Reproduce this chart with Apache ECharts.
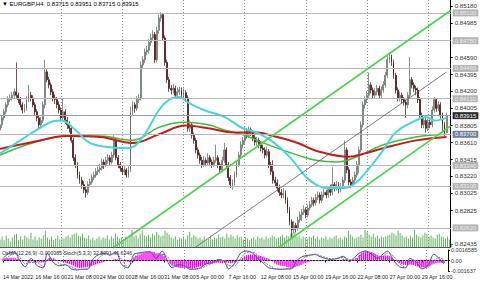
<!DOCTYPE html>
<html><head><meta charset="utf-8">
<script src="https://cdn.jsdelivr.net/npm/echarts@6/dist/echarts.min.js"></script>
<style>html,body{margin:0;padding:0;background:#fff;overflow:hidden}#c{width:480px;height:284px}</style>
</head><body><div id="c"></div>
<script>
// prices in units of 0.0001
const tickLabels = ['14 Mar 2022','16 Mar 16:00','21 Mar 08:00','24 Mar 00:00','28 Mar 16:00','31 Mar 08:00','5 Apr 00:00','7 Apr 16:00','12 Apr 08:00','15 Apr 00:00','19 Apr 16:00','22 Apr 08:00','27 Apr 00:00','29 Apr 16:00'];
const opens = [8375,8381,8389,8396,8404,8410,8412,8415,8419,
8415,8410,8404,8398,8400,8410,8415,8412,8404,8396,8389,8381,8386,8404,
8442,8433,8427,8419,8412,8410,8404,8398,8389,8396,8386,8381,8377,8363,
8343,8335,8323,8317,8312,8306,8303,8312,8315,8320,8323,8327,8329,8331,
8338,8335,8340,8343,8338,8346,8363,8343,8335,8331,8327,8329,8323,8329,
8396,8404,8400,8410,8412,8450,8456,8465,8467,8476,8481,8485,8456,8490,
8504,8508,8481,8453,8433,8423,8421,8423,8415,8419,8421,8415,8418,8412,
8377,8381,8369,8363,8352,8346,8340,8335,8340,8337,8343,8338,8335,8340,
8343,8335,8329,8340,8352,8335,8320,8312,8314,8323,8335,8346,8358,8363,
8373,8369,8375,8372,8366,8361,8363,8358,8354,8352,8346,8350,8335,8327,
8317,8314,8308,8303,8300,8302,8294,8283,8269,8260,8265,8262,8271,8277,
8280,8283,8277,8285,8289,8294,8291,8297,8300,8294,8300,8303,8300,8306,
8303,8312,8308,8312,8306,8310,8317,8352,8329,8315,8312,8317,8323,8335,
8352,8381,8404,8410,8415,8427,8421,8415,8419,8423,8415,8421,8427,8438,
8456,8459,8453,8438,8421,8412,8415,8410,8407,8404,8415,8433,8427,8423,
8421,8410,8392,8381,8386,8377,8384,8381,8398,8410,8400,8404,8392,8381,8372];
const closes = [8381,8389,8396,8404,8410,8412,8415,8419,8415,
8410,8404,8398,8400,8410,8415,8412,8404,8396,8389,8381,8386,8404,8442,
8433,8427,8419,8412,8410,8404,8398,8389,8396,8386,8381,8377,8363,8343,
8335,8323,8317,8312,8306,8303,8312,8315,8320,8323,8327,8329,8331,8338,
8335,8340,8343,8338,8346,8363,8343,8335,8331,8327,8329,8323,8329,8396,
8404,8400,8410,8412,8450,8456,8465,8467,8476,8481,8485,8456,8490,8504,
8508,8481,8453,8433,8423,8421,8423,8415,8419,8421,8415,8418,8412,8377,
8381,8369,8363,8352,8346,8340,8335,8340,8337,8343,8338,8335,8340,8343,
8335,8329,8340,8352,8335,8320,8312,8314,8323,8335,8346,8358,8363,8373,
8369,8375,8372,8366,8361,8363,8358,8354,8352,8346,8350,8335,8327,8317,
8314,8308,8303,8300,8302,8294,8283,8269,8260,8265,8262,8271,8277,8280,
8283,8277,8285,8289,8294,8291,8297,8300,8294,8300,8303,8300,8306,8303,
8312,8308,8312,8306,8310,8317,8352,8329,8315,8312,8317,8323,8335,8352,
8381,8404,8410,8415,8427,8421,8415,8419,8423,8415,8421,8427,8438,8456,
8459,8453,8438,8421,8412,8415,8410,8407,8404,8415,8433,8427,8423,8421,
8410,8392,8381,8386,8377,8384,8381,8398,8410,8400,8404,8392,8381,8372,8392];
const highs = [8385,8392,8399,8407,8414,8416,8419,8423,8453,
8418,8413,8407,8405,8414,8427,8419,8415,8407,8399,8392,8390,8408,8456,
8445,8436,8430,8422,8416,8413,8408,8401,8412,8399,8390,8385,8380,8366,
8347,8338,8327,8321,8316,8310,8316,8319,8324,8327,8331,8333,8336,8342,
8341,8344,8347,8346,8350,8369,8366,8346,8338,8334,8333,8331,8333,8402,
8408,8407,8414,8416,8454,8460,8469,8472,8480,8486,8490,8488,8494,8508,
8511,8510,8484,8456,8436,8427,8428,8426,8424,8425,8424,8423,8421,8415,
8386,8384,8372,8366,8355,8349,8344,8345,8343,8348,8346,8341,8344,8358,
8346,8338,8344,8360,8355,8338,8323,8318,8327,8339,8350,8362,8367,8378,
8377,8379,8378,8375,8369,8367,8366,8361,8358,8355,8356,8353,8338,8340,
8321,8318,8312,8307,8308,8305,8297,8286,8272,8270,8268,8275,8281,8284,
8288,8286,8289,8293,8298,8297,8301,8304,8303,8304,8307,8306,8310,8312,
8332,8315,8316,8315,8314,8321,8363,8355,8332,8318,8321,8327,8339,8356,
8385,8408,8414,8420,8441,8430,8424,8423,8427,8426,8425,8431,8442,8460,
8465,8462,8456,8441,8424,8419,8418,8413,8410,8419,8459,8436,8430,8426,
8424,8413,8395,8390,8389,8388,8387,8402,8413,8412,8408,8407,8395,8384,8395];
const lows = [8372,8377,8386,8393,8401,8407,8409,8412,8412,
8406,8401,8394,8395,8397,8407,8408,8401,8392,8385,8377,8378,8383,8400,
8430,8423,8415,8408,8405,8400,8394,8385,8386,8382,8376,8372,8360,8339,
8331,8319,8313,8307,8302,8297,8300,8309,8312,8317,8320,8323,8325,8328,
8330,8332,8336,8334,8335,8343,8340,8331,8327,8323,8323,8320,8320,8326,
8392,8395,8397,8406,8409,8446,8452,8461,8463,8472,8478,8452,8453,8486,
8500,8478,8449,8429,8419,8416,8417,8411,8412,8415,8411,8412,8408,8373,
8373,8365,8359,8348,8342,8336,8331,8332,8333,8334,8334,8331,8332,8337,
8331,8325,8326,8337,8331,8316,8308,8306,8311,8320,8332,8343,8354,8359,
8365,8366,8368,8362,8357,8357,8354,8350,8348,8342,8343,8331,8323,8313,
8310,8304,8299,8296,8296,8290,8279,8265,8250,8256,8257,8259,8268,8270,
8277,8273,8274,8282,8286,8287,8288,8294,8290,8291,8297,8296,8297,8299,
8300,8304,8305,8302,8303,8307,8314,8325,8311,8308,8309,8314,8320,8325,
8349,8378,8400,8406,8412,8417,8411,8412,8415,8411,8412,8418,8424,8435,
8452,8449,8434,8417,8408,8408,8406,8403,8389,8400,8412,8423,8419,8415,
8406,8388,8377,8377,8372,8374,8377,8378,8395,8396,8397,8388,8372,8368,8372];
const volumes = [40,55,35,60,45,30,50,65,70,
35,55,40,60,50,45,75,40,55,35,50,45,60,85,
50,40,55,35,45,60,40,50,45,55,60,50,65,70,
75,60,55,70,50,45,60,40,50,35,45,55,40,50,
45,60,40,55,45,70,55,45,50,40,55,45,60,90,
55,60,45,70,85,60,55,65,50,70,60,80,65,55,
60,85,75,65,50,45,55,40,50,45,55,40,60,80,
50,60,55,45,50,40,55,35,45,60,40,50,45,65,
50,55,45,70,50,65,55,45,60,50,55,40,50,45,
35,45,50,40,55,45,50,40,55,45,50,60,55,45,
50,55,65,50,60,55,70,75,80,55,60,45,55,50,
45,55,50,60,45,55,40,50,45,55,40,50,45,55,
60,45,50,40,55,50,85,65,55,45,50,55,65,50,
90,80,65,55,70,50,60,45,55,50,55,60,65,75,
70,60,85,75,60,50,55,45,60,50,90,65,55,50,
60,75,70,55,60,50,45,65,70,55,50,45,55,40,20];
// OsMA in units of 0.00001
const osma = [30,35,40,42,45,40,35,30,25,
10,0,-10,-15,-18,-15,-12,-15,-20,-25,-30,-30,-20,10,
40,35,25,15,5,-5,-15,-25,-35,-45,-55,-65,-80,-95,
-110,-115,-115,-110,-105,-100,-90,-80,-70,-60,-50,-40,-30,-20,
0,5,10,10,15,25,20,10,0,-10,-15,-20,-25,0,
50,70,85,95,110,120,130,135,140,140,135,115,115,110,
100,70,30,-10,-45,-70,-90,-100,-110,-115,-115,-115,-110,-120,
-125,-120,-115,-110,-100,-90,-80,-70,-60,-55,-50,-45,-40,-35,
-35,-40,-40,-35,-30,-35,-40,-40,-30,-15,0,20,40,60,
85,90,95,95,90,85,80,70,60,50,40,20,0,-15,
-45,-60,-70,-80,-85,-90,-100,-110,-115,-110,-100,-90,-80,-70,
-50,-40,-30,-20,-10,0,5,10,10,10,10,8,8,5,
5,2,0,-2,0,5,30,20,10,5,10,20,35,40,
90,115,130,140,145,140,130,115,100,85,75,70,75,80,
80,70,50,25,0,-20,-40,-55,-65,-70,-60,-60,-65,-70,
-85,-95,-105,-110,-110,-105,-95,-80,-60,-50,-40,-35,-35,-38,-38];
const stochIdx = [0,3,6,8,11,14,17,20,22,25,28,31,34,37,39,42,45,48,51,53,56,59,62,65,67,70,73,76,79,82,84,87,90,93,96,98,101,104,107,110,112,115,118,121,124,127,129,132,135,138,141,143,146,149,152,155,157,160,163,166,169,172,174,177,180,183,186,188,191,194,197,200,202,205,208,211,214,217,219];
const stochMain = [60,85,90,55,20,60,25,15,85,40,25,30,10,5,8,10,60,80,85,75,90,30,15,80,85,90,92,60,95,40,15,30,25,8,10,15,35,40,55,45,10,35,85,95,85,55,40,15,10,8,10,10,50,70,75,80,70,60,55,60,70,45,60,85,95,80,60,75,95,50,20,15,60,45,10,25,80,55,33];
const stochSignal = [50,70,85,70,35,40,40,20,55,60,35,28,20,8,7,9,35,65,82,80,82,55,20,50,80,88,90,75,80,65,25,22,28,15,9,12,25,38,48,50,25,25,60,88,90,70,48,28,12,9,9,10,30,60,72,78,75,65,58,58,65,55,52,70,90,88,70,68,85,70,35,18,40,50,25,18,50,65,47];
const maCyanIdx = [0,10,20,26,30,37,44,54,63,70,78,83,88,92,100,110,119,126,134,142,150,155,160,167,172,179,188,194,204,209,213,219];
const maCyanVal = [8348,8363,8378,8385,8386,8375,8360,8355,8354,8367,8398,8410,8413,8407,8398,8390,8377,8372,8361,8344,8321,8312,8308,8308,8310,8325,8352,8372,8386,8390,8386,8389];
const maGreenIdx = [0,16,33,49,65,78,91,102,110,120,126,136,146,155,165,175,188,204,219];
const maGreenVal = [8346,8360,8368,8368,8363,8378,8384,8381,8375,8369,8363,8354,8346,8340,8338,8344,8358,8367,8370];
const maRedIdx = [0,16,33,49,65,78,91,102,115,126,134,146,155,171,179,188,204,219];
const maRedVal = [8353,8361,8368,8367,8360,8370,8380,8377,8372,8372,8368,8360,8351,8344,8348,8354,8363,8367];
const levelPrices = [0.85100,0.84780,0.84460,0.84110,0.83340,0.83100,0.82620];
const maLevel = 0.83700;
const currentPrice = 0.83915;
const priceTicks = [0.85180,0.84985,0.84590,0.84395,0.84200,0.84005,0.83805,0.83610,0.83415,0.83220,0.83025,0.82825,0.82435];
const osmaTicks = [0.0016585,0,-0.001637];
const osmaTickText = ['0.0016585','0.00','-0.001637'];
// trend lines: [startBar, startPrice, endBar, endPrice]
const channelUpper = [56,0.82400,221,0.85128];
const channelLower = [137,0.82400,221,0.83798];
const thinTrend = [96,0.82400,219,0.84419];

const S = 10000;
const N = closes.length;
const cats = [];
for (let i = 0; i < N + 2; i++) cats.push(String(i));
const candle = opens.map((o, i) => [o / S, closes[i] / S, lows[i] / S, highs[i] / S]);
const pairs = (idx, val, div) => idx.map((x, k) => [x, val[k] / div]);
const font = 'Liberation Sans, Arial, sans-serif';
const GL = -1, GR = 24.2;
const weekSep = i => i > 0 && i % 30 === 0;
const lblInt = i => i % 16 === 0 && i < N;
const sepLine = {show: true, interval: (i) => weekSep(i), lineStyle: {color: '#8c8c8c', type: [1, 2], width: 1}};
const seg = (a, style) => [{coord: [a[0], a[1]], lineStyle: style}, {coord: [a[2], a[3]]}];
const green = {color: '#4cd44c', width: 1.6, type: 'solid'};

const chart = echarts.init(document.getElementById('c'), null, {renderer: 'svg', width: 480, height: 284});
chart.setOption({
  animation: false,
  backgroundColor: '#ffffff',
  grid: [
    {left: GL, right: GR, top: 0, height: 247},
    {left: GL, right: GR, top: 228, height: 19},
    {left: GL, right: GR, top: 250, height: 21}
  ],
  xAxis: [
    {type: 'category', gridIndex: 0, data: cats, boundaryGap: false,
     axisLine: {show: true, lineStyle: {color: '#555'}}, axisTick: {show: false}, axisLabel: {show: false}, splitLine: sepLine},
    {type: 'category', gridIndex: 1, data: cats, boundaryGap: false, show: false},
    {type: 'category', gridIndex: 2, data: cats, boundaryGap: false,
     axisLine: {show: true, lineStyle: {color: '#000'}},
     axisTick: {show: true, interval: lblInt, length: 2, lineStyle: {color: '#000'}},
     axisLabel: {show: true, interval: lblInt, formatter: (v, i) => tickLabels[Math.round(i / 16)] || '', align: 'left',
       fontSize: 5.4, color: '#222', margin: 3, fontFamily: font, showMinLabel: true, hideOverlap: false},
     splitLine: sepLine}
  ],
  yAxis: [
    {type: 'value', gridIndex: 0, position: 'right', min: 0.82400, max: 0.85249,
     axisLine: {show: true, lineStyle: {color: '#000'}},
     axisTick: {show: true, customValues: priceTicks, length: 2, lineStyle: {color: '#000'}},
     axisLabel: {show: true, customValues: priceTicks, formatter: v => v.toFixed(5), fontSize: 6.2, color: '#333', margin: 4, fontFamily: font},
     splitLine: {show: false}},
    {type: 'value', gridIndex: 1, min: 0, max: 100, show: false},
    {type: 'value', gridIndex: 2, position: 'right', min: -0.001637, max: 0.0016585,
     axisLine: {show: true, lineStyle: {color: '#000'}},
     axisTick: {show: true, customValues: osmaTicks, length: 2, lineStyle: {color: '#000'}},
     axisLabel: {show: true, customValues: osmaTicks, formatter: v => osmaTickText[osmaTicks.indexOf(v)] || '', fontSize: 5.5, color: '#333', margin: 3, fontFamily: font},
     splitLine: {show: false}},
    {type: 'value', gridIndex: 2, min: 0, max: 100, show: false}
  ],
  series: [
    {type: 'line', xAxisIndex: 0, yAxisIndex: 0, data: [[0, currentPrice], [N + 1, currentPrice]], showSymbol: false,
     lineStyle: {opacity: 0}, z: 1, silent: true,
     markLine: {symbol: 'none', silent: true, animation: false, precision: 5,
       lineStyle: {color: '#b8b8b8', type: 'solid', width: 1},
       label: {show: true, position: 'end', distance: 2, formatter: p => Number(p.value).toFixed(5), fontSize: 6, fontFamily: font,
         color: '#eeeeee', backgroundColor: '#b4b4b4', padding: [1, 2, 0, 2]},
       data: levelPrices.map(p => ({yAxis: p})).concat([
         {yAxis: maLevel, label: {backgroundColor: '#6e7f99', color: '#ffffff'}},
         {yAxis: currentPrice, lineStyle: {color: '#a0a0a0'}, label: {backgroundColor: '#2a2a2a', color: '#ffffff'}}
       ])}},
    {type: 'bar', xAxisIndex: 1, yAxisIndex: 1, data: volumes, barWidth: 1, itemStyle: {color: '#63b163'}, z: 1, silent: true},
    {type: 'candlestick', xAxisIndex: 0, yAxisIndex: 0, data: candle, barWidth: 1.4, z: 2, silent: true,
     itemStyle: {color: '#c4ccc4', color0: '#7a1515', borderColor: '#56625a', borderColor0: '#3a0808', borderWidth: 0.7}},
    {type: 'line', xAxisIndex: 0, yAxisIndex: 0, data: pairs(maGreenIdx, maGreenVal, S), smooth: 0.4, showSymbol: false, z: 3,
     lineStyle: {color: '#3cc03c', width: 1.5}},
    {type: 'line', xAxisIndex: 0, yAxisIndex: 0, data: pairs(maRedIdx, maRedVal, S), smooth: 0.4, showSymbol: false, z: 3,
     lineStyle: {color: '#cc1a1a', width: 2}},
    {type: 'line', xAxisIndex: 0, yAxisIndex: 0, data: pairs(maCyanIdx, maCyanVal, S), smooth: 0.4, showSymbol: false, z: 3,
     lineStyle: {color: '#40d8dc', width: 2}},
    {type: 'line', xAxisIndex: 0, yAxisIndex: 0, data: [[0, currentPrice], [N + 1, currentPrice]], showSymbol: false,
     lineStyle: {opacity: 0}, z: 4, silent: true,
     markLine: {symbol: 'none', silent: true, animation: false, precision: 5, label: {show: false},
       data: [seg(channelUpper, green), seg(channelLower, green),
              seg(thinTrend, {color: '#5a5a5a', width: 0.8, type: 'solid'})]}},
    {type: 'bar', xAxisIndex: 2, yAxisIndex: 2, data: osma.map(v => v / 100000), barWidth: 1.4, itemStyle: {color: '#ff00ff'}, silent: true,
     markLine: {symbol: 'none', silent: true, precision: 6, label: {show: false}, lineStyle: {color: '#888', type: [1, 2], width: 1}, data: [{yAxis: 0}]}},
    {type: 'line', xAxisIndex: 2, yAxisIndex: 3, data: pairs(stochIdx, stochMain, 1), smooth: 0.3, showSymbol: false,
     lineStyle: {color: '#4a4a90', width: 1}},
    {type: 'line', xAxisIndex: 2, yAxisIndex: 3, data: pairs(stochIdx, stochSignal, 1), smooth: 0.3, showSymbol: false,
     lineStyle: {color: '#7a7a9a', width: 1, type: [2, 1]}}
  ],
  graphic: [
    {type: 'text', left: 2, top: 1, style: {text: '▼ EURGBP,H4  0.83715 0.83951 0.83715 0.83915', fontSize: 6, fontFamily: font, fill: '#000'}},
    {type: 'text', left: 2, top: 250, style: {text: 'OsMA(12,26,9) -0.000385 Stoch(5,3,3) 32.8091 46.6246', fontSize: 5.2, fontFamily: font, fill: '#222'}}
  ]
});
</script></body></html>
